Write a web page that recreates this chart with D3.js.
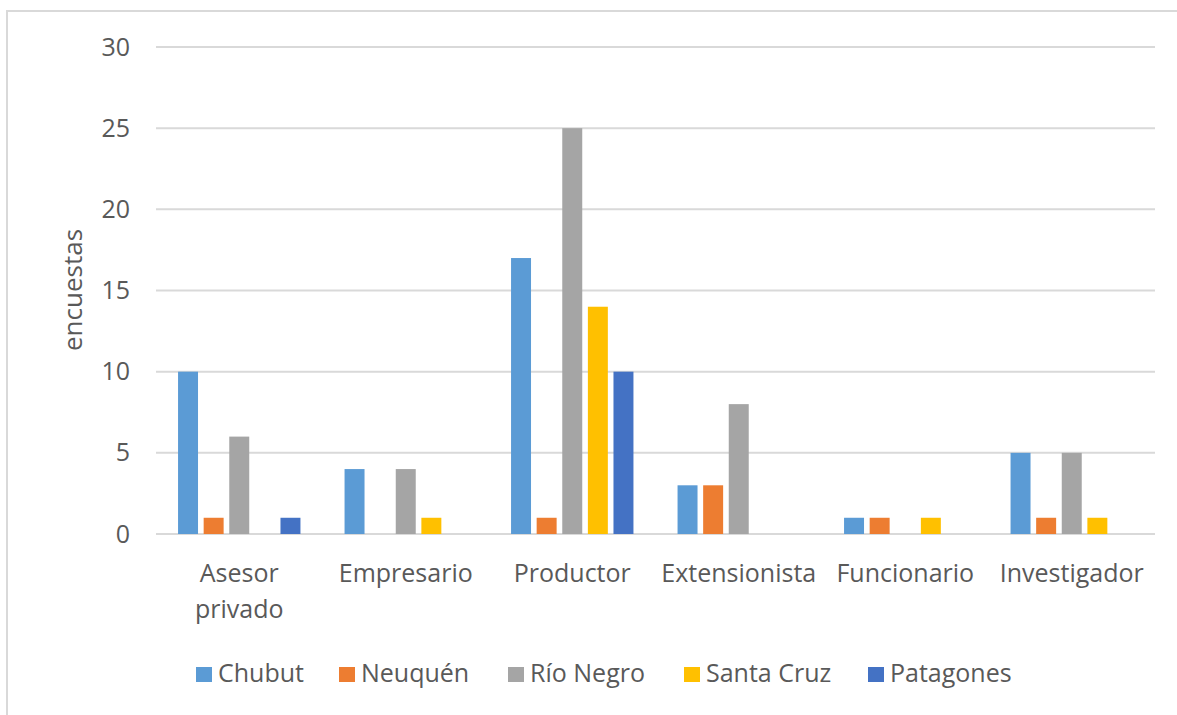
<!DOCTYPE html>
<html>
<head>
<meta charset="utf-8">
<script src="https://cdn.jsdelivr.net/npm/d3@7"></script>
<style>
  body { margin: 0; background: #fff; }
  svg { display: block; }
</style>
</head>
<body>
<svg id="chart" width="1177" height="715"></svg>
<script>
const categories = ["Asesor privado", "Empresario", "Productor", "Extensionista", "Funcionario", "Investigador"];
const series = ["Chubut", "Neuquén", "Río Negro", "Santa Cruz", "Patagones"];
const chubut    = [10, 4, 17, 3, 1, 5];
const neuquen   = [1, 0, 1, 3, 1, 1];
const rioNegro  = [6, 4, 25, 8, 0, 5];
const santaCruz = [0, 1, 14, 0, 1, 1];
const patagones = [1, 0, 10, 0, 0, 0];
const yTicks = [0, 5, 10, 15, 20, 25, 30];
const yLabel = "encuestas";

const colours = ["#5b9bd5", "#ed7d31", "#a5a5a5", "#ffc000", "#4472c4"];
const values = [chubut, neuquen, rioNegro, santaCruz, patagones];
const fontFamily = "'Open Sans', 'Noto Sans', sans-serif";
const fontSize = "25px";
const textColour = "#595959";

const margin = { top: 47, right: 22, bottom: 181, left: 156 };
const width = 1177, height = 715;
const chartWidth = width - margin.left - margin.right;
const chartHeight = height - margin.top - margin.bottom;

const svg = d3.select("#chart");

// outer frame
svg.append("rect")
    .attr("x", 7).attr("y", 11)
    .attr("width", width + 10).attr("height", height + 10)
    .attr("fill", "none")
    .attr("stroke", "#d9d9d9")
    .attr("stroke-width", 2);

const chart = svg.append("g")
    .attr("transform", "translate(" + margin.left + "," + margin.top + ")");

const x0 = d3.scaleBand()
    .domain(categories)
    .range([0, chartWidth]);

const groupWidth = 122.4;
const x1 = d3.scaleBand()
    .domain(series)
    .range([(x0.bandwidth() - groupWidth) / 2, (x0.bandwidth() + groupWidth) / 2])
    .paddingInner(0.22);

const y = d3.scaleLinear()
    .domain([0, 30])
    .range([chartHeight, 0]);

// gridlines
chart.append("g")
    .selectAll("line")
    .data(yTicks)
    .join("line")
    .attr("x1", 0).attr("x2", chartWidth)
    .attr("y1", d => y(d)).attr("y2", d => y(d))
    .attr("stroke", "#d9d9d9")
    .attr("stroke-width", 2);

// y tick labels
const yAxis = d3.axisLeft(y).tickValues(yTicks).tickSize(0).tickPadding(26);
chart.append("g")
    .call(yAxis)
    .call(g => g.select(".domain").remove())
    .selectAll("text")
    .style("font-family", fontFamily)
    .style("font-size", fontSize)
    .style("fill", textColour);

// bars
series.forEach((s, si) => {
    chart.append("g")
        .selectAll("rect")
        .data(categories)
        .join("rect")
        .attr("x", c => x0(c) + x1(s))
        .attr("y", (c, i) => y(values[si][i]))
        .attr("width", x1.bandwidth())
        .attr("height", (c, i) => chartHeight - y(values[si][i]))
        .attr("fill", colours[si]);
});

// category labels
const catLabels = chart.append("g")
    .selectAll("text")
    .data(categories)
    .join("text")
    .attr("x", c => x0(c) + x0.bandwidth() / 2)
    .attr("y", chartHeight + 48)
    .attr("text-anchor", "middle")
    .style("font-family", fontFamily)
    .style("font-size", fontSize)
    .style("fill", textColour);

catLabels.each(function(c) {
    const words = c === "Asesor privado" ? ["Asesor", "privado"] : [c];
    const t = d3.select(this);
    words.forEach((w, i) => {
        t.append("tspan")
            .attr("x", x0(c) + x0.bandwidth() / 2)
            .attr("dy", i === 0 ? 0 : 36)
            .text(w);
    });
});

// y axis title
svg.append("text")
    .attr("transform", "translate(82,290) rotate(-90)")
    .attr("text-anchor", "middle")
    .style("font-family", fontFamily)
    .style("font-size", "26px")
    .style("fill", textColour)
    .text(yLabel);

// legend
const legendStarts = [196, 339, 508, 684, 868];
const legend = svg.append("g")
    .selectAll("g")
    .data(series)
    .join("g")
    .attr("transform", (d, i) => "translate(" + legendStarts[i] + ",667)");

legend.append("rect")
    .attr("width", 16).attr("height", 15)
    .attr("fill", (d, i) => colours[i]);

legend.append("text")
    .attr("x", 22)
    .attr("y", 15)
    .style("font-family", fontFamily)
    .style("font-size", fontSize)
    .style("fill", textColour)
    .text(d => d);
</script>
</body>
</html>
